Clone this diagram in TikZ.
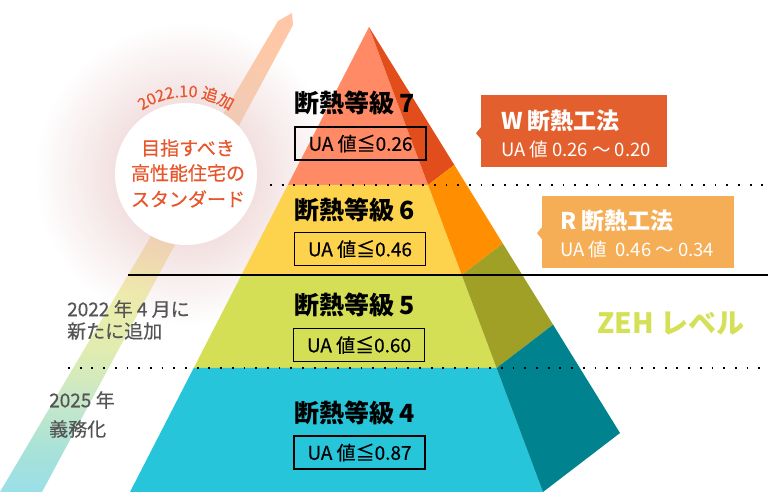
\documentclass[tikz,border=0pt]{standalone}
\usepackage{fontspec}
\setmainfont{Noto Sans CJK JP}
\newfontfamily\medfont{Noto Sans CJK JP}[FakeBold=0.45]
\usetikzlibrary{decorations.text,fadings}
\definecolor{salmon}{HTML}{FF8A65}
\definecolor{yel}{HTML}{FDD34D}
\definecolor{ygreen}{HTML}{D4DF55}
\definecolor{cyanf}{HTML}{26C5DA}
\definecolor{sideA}{HTML}{E24E1B}
\definecolor{sideB}{HTML}{FF8F00}
\definecolor{sideC}{HTML}{A0A027}
\definecolor{sideD}{HTML}{00838F}
\definecolor{wcol}{HTML}{E3602E}
\definecolor{rcol}{HTML}{F5AE56}
\definecolor{circtext}{HTML}{E8552B}
\definecolor{graytext}{HTML}{555555}
\definecolor{zehcol}{HTML}{D4E157}
\definecolor{glowpink}{HTML}{E9C6C6}
\definecolor{stA}{HTML}{9ADFE8}
\definecolor{stB}{HTML}{A8E2D8}
\definecolor{stC}{HTML}{C8E8C8}
\definecolor{stD}{HTML}{E0ECB0}
\definecolor{stE}{HTML}{F0EEAA}
\definecolor{stF}{HTML}{F5E0A2}
\definecolor{stG}{HTML}{F9D2A5}
\definecolor{stH}{HTML}{FFC6A8}
\pgfdeclareverticalshading{stripeshade}{100bp}{color(0bp)=(stA); color(25bp)=(stA); color(29.4bp)=(stB); color(34.6bp)=(stC); color(39.8bp)=(stD); color(46.1bp)=(stE); color(50.8bp)=(stF); color(60.7bp)=(stG); color(74.3bp)=(stH); color(100bp)=(stH)}
\tikzfading[name=glowfade, inner color=transparent!0, outer color=transparent!100]
\begin{document}
\begin{tikzpicture}[x=1pt,y=1pt,
  title/.style={anchor=west, inner sep=0pt, font=\fontsize{25}{25}\selectfont\bfseries},
  uabox/.style={draw=black, line width=1.3pt, minimum width=131pt, minimum height=33pt, inner sep=0pt, font=\medfont\fontsize{19}{19}\selectfont},
  dotline/.style={line width=1.8pt, dash pattern=on 1.8pt off 9.9pt},
  solidline/.style={line width=1.2pt},
  calltitle/.style={anchor=west, inner sep=0pt, text=white, font=\fontsize{23}{23}\selectfont\bfseries},
  callsub/.style={anchor=west, inner sep=0pt, text=white, font=\fontsize{18.5}{18.5}\selectfont},
  callbox/.style={inner sep=0pt, anchor=north west},
  lefttext/.style={anchor=west, inner sep=0pt, text=graytext, font=\medfont\fontsize{19}{19}\selectfont},
  circline/.style={inner sep=0pt, text=circtext, font=\medfont\fontsize{19}{19}\selectfont}
]
\useasboundingbox (0,0) rectangle (768,492);
\fill[white] (0,0) rectangle (768,492);

% stripe and glow
\shade[shading=stripeshade]
  (0,0) -- (42,0) -- (293,467) -- (292,479) -- (278,471) -- cycle;
\fill[glowpink, path fading=glowfade] (186,318) circle[radius=150];

% circle
\node[circle, fill=white, minimum size=142pt, inner sep=0pt] (circ) at (186,318) {};
\node[circline] (c1) at (188,344) {目指すべき};
\node[circline] (c2) at (188,319) {高性能住宅の};
\node[circline] (c3) at (188,293) {スタンダード};
\path[decorate, decoration={text along path, text align=center,
   text={|\medfont\fontsize{16}{16}\selectfont\color{circtext}|2022.10 追加}}]
   (circ.center) ++(150:77) arc[start angle=150, end angle=30, radius=77];

% pyramid coordinates
\coordinate (A) at (369,465);
\coordinate (BL) at (130,0);
\coordinate (BR) at (543,0);
\coordinate (SF) at (620,59);
\coordinate (L1) at (287.8,307);
\coordinate (R1) at (428.1,307);
\coordinate (L2) at (241.5,217);
\coordinate (R2) at (461.8,217);
\coordinate (L3) at (193.7,124);
\coordinate (R3) at (496.6,124);
\coordinate (S1) at (454.3,327.1);
\coordinate (S2) at (502.8,248.5);
\coordinate (S3) at (553.1,167.3);

% front faces
\fill[salmon] (A) -- (L1) -- (R1) -- cycle;
\fill[yel] (L1) -- (L2) -- (R2) -- (R1) -- cycle;
\fill[ygreen] (L2) -- (L3) -- (R3) -- (R2) -- cycle;
\fill[cyanf] (L3) -- (BL) -- (BR) -- (R3) -- cycle;
% side faces
\fill[sideA] (A) -- (R1) -- (S1) -- cycle;
\fill[sideB] (R1) -- (R2) -- (S2) -- (S1) -- cycle;
\fill[sideC] (R2) -- (R3) -- (S3) -- (S2) -- cycle;
\fill[sideD] (R3) -- (BR) -- (SF) -- (S3) -- cycle;

% lines
\coordinate (d1a) at (270,307); \coordinate (d1b) at (768,307);
\coordinate (s1a) at (128,217); \coordinate (s1b) at (768,217);
\coordinate (d2a) at (68,124); \coordinate (d2b) at (768,124);
\draw[dotline] (d1a) -- (d1b);
\draw[solidline] (s1a) -- (s1b);
\draw[dotline] (d2a) -- (d2b);

% pyramid labels
\node[title] (t7) at (294,389) {断熱等級 7};
\node[uabox] (b7) at (360.5,348.5) {UA 値≦0.26};
\node[title] (t6) at (294,282) {断熱等級 6};
\node[uabox] (b6) at (360,243) {UA 値≦0.46};
\node[title] (t5) at (294,187) {断熱等級 5};
\node[uabox] (b5) at (359,147) {UA 値≦0.60};
\node[title] (t4) at (294,79) {断熱等級 4};
\node[uabox] (b4) at (359.5,39.5) {UA 値≦0.87};

% callouts
\node[callbox, fill=wcol, minimum width=186pt, minimum height=72pt] (wbox) at (481,397) {};
\fill[wcol] ([yshift=4pt]wbox.west) -- ([xshift=-5pt,yshift=-2pt]wbox.west) -- ([yshift=-8pt]wbox.west) -- cycle;
\node[calltitle] (wt) at (501,371) {W 断熱工法};
\node[callsub] (ws) at (501,343) {UA 値 0.26 〜 0.20};

\node[callbox, fill=rcol, minimum width=192pt, minimum height=72pt] (rbox) at (542,296) {};
\fill[rcol] ([yshift=5pt]rbox.west) -- ([xshift=-5pt,yshift=-1pt]rbox.west) -- ([yshift=-7pt]rbox.west) -- cycle;
\node[calltitle] (rt) at (560,271) {R 断熱工法};
\node[callsub] (rs) at (560,243) {UA 値\ \ 0.46 〜 0.34};

\node[anchor=west, inner sep=0pt, text=zehcol, font=\fontsize{28}{28}\selectfont\bfseries] (zeh) at (597,168) {ZEH レベル};

% left notes
\node[lefttext] (n1) at (67,183) {2022 年 4 月に};
\node[lefttext] (n2) at (67,161) {新たに追加};
\node[lefttext] (n3) at (49,92) {2025 年};
\node[lefttext] (n4) at (49,63) {義務化};
\end{tikzpicture}
\end{document}
